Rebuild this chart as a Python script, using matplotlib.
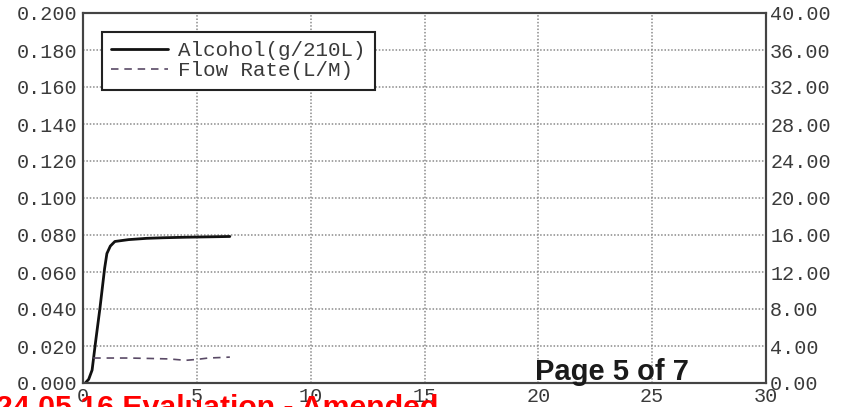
import matplotlib
matplotlib.use("Agg")
import matplotlib.pyplot as plt
from matplotlib.ticker import FormatStrFormatter

# ---- data ----
alc_time = [0.10, 0.25, 0.40, 0.55, 0.75, 0.95, 1.05, 1.20, 1.40, 2.0, 2.8, 3.5, 4.5, 5.5, 6.45]
alcohol = [0.000, 0.002, 0.007, 0.022, 0.041, 0.062, 0.070, 0.074, 0.0765, 0.0775, 0.0782, 0.0785, 0.0788, 0.0790, 0.0792]
flow_time = [0.45, 1.0, 2.0, 3.0, 3.8, 4.5, 5.0, 5.5, 6.0, 6.45]
flow_rate = [2.7, 2.7, 2.7, 2.65, 2.6, 2.45, 2.55, 2.7, 2.75, 2.8]
x_ticks = [0, 5, 10, 15, 20, 25, 30]
left_ticks = [0.000, 0.020, 0.040, 0.060, 0.080, 0.100, 0.120, 0.140, 0.160, 0.180, 0.200]
right_ticks = [0, 4, 8, 12, 16, 20, 24, 28, 32, 36, 40]
series_names = ["Alcohol(g/210L)", "Flow Rate(L/M)"]

mono = "Liberation Mono"
label_color = "#3a3a3a"

fig = plt.figure(figsize=(8.46, 4.07), dpi=100)
ax = fig.add_axes([83/846, 1-383/407, (766-83)/846, (383-13)/407])
ax2 = ax.twinx()

l1, = ax.plot(alc_time, alcohol, color="#111111", lw=2.0, solid_capstyle="round")
l2, = ax2.plot(flow_time, flow_rate, color="#5a4a66", lw=1.2, linestyle=(0, (4.5, 3.5)))

ax.set_xlim(0, 30)
ax.set_ylim(0, 0.2)
ax2.set_ylim(0, 40)
ax.set_xticks(x_ticks)
ax.set_yticks(left_ticks)
ax2.set_yticks(right_ticks)
ax.yaxis.set_major_formatter(FormatStrFormatter("%.3f"))
ax2.yaxis.set_major_formatter(FormatStrFormatter("%.2f"))

ax.grid(True, color="#8a8a8a", linestyle=(0, (1, 1.2)), lw=1.1)
ax.set_axisbelow(True)

for a in (ax, ax2):
    for s in a.spines.values():
        s.set_color("#444444")
        s.set_linewidth(1.5)
ax.tick_params(axis="both", length=0, labelcolor=label_color)
ax.tick_params(axis="y", pad=4)
ax.tick_params(axis="x", pad=3)
ax2.tick_params(axis="y", length=0, pad=3, labelcolor=label_color)
for lab in ax.get_xticklabels() + ax.get_yticklabels() + ax2.get_yticklabels():
    lab.set_fontfamily(mono)
    lab.set_fontsize(14.5)

leg = ax.legend([l1, l2], series_names, loc="upper left",
                bbox_to_anchor=((102-83)/683, (383-32)/370),
                prop={"family": mono, "size": 15}, frameon=True, fancybox=False,
                borderaxespad=0, handlelength=2.7, handletextpad=0.5,
                borderpad=0.45, labelspacing=0.05, framealpha=1)
leg.get_frame().set_edgecolor("#222222")
leg.get_frame().set_linewidth(1.5)
for t in leg.get_texts():
    t.set_color(label_color)

fig.text(535/846, 1-380/407, "Page 5 of 7", fontfamily="Liberation Sans",
         fontweight="bold", fontsize=21, color="#1a1a1a", ha="left", va="baseline")
fig.text(-4/846, 1-416/407, "24.05.16 Evaluation - Amended", fontfamily="Liberation Sans",
         fontweight="bold", fontsize=21.8, color="#ff0000", ha="left", va="baseline")

fig.savefig("out.png", dpi=100)
